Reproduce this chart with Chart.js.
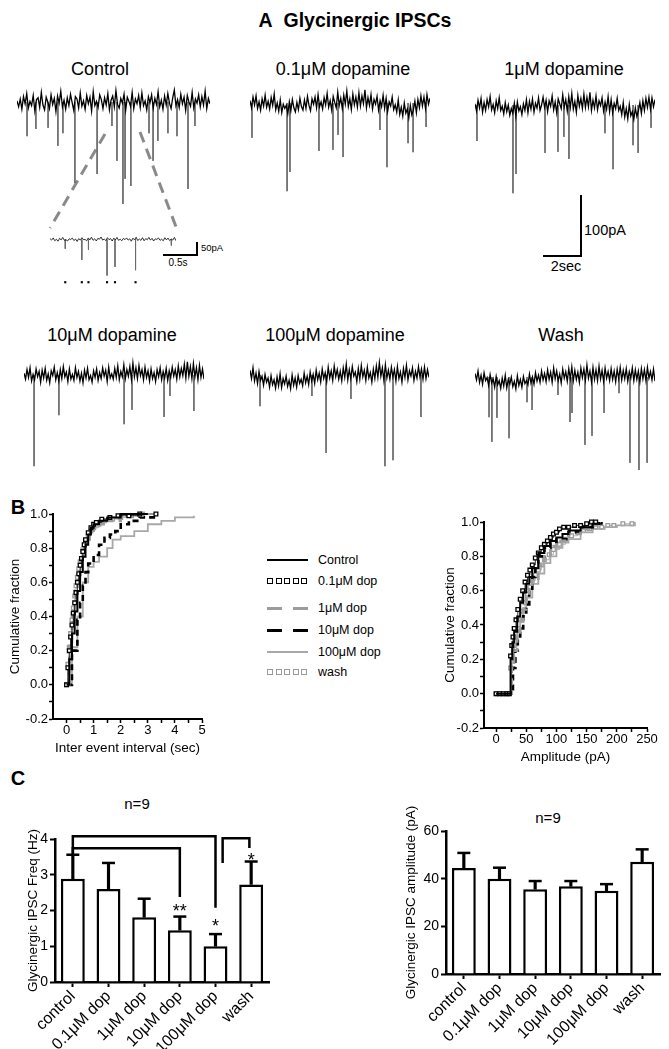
<!DOCTYPE html>
<html><head><meta charset="utf-8">
<script src="https://cdn.jsdelivr.net/npm/chart.js@4.4.1/dist/chart.umd.min.js"></script>
<style>
html,body{margin:0;padding:0;background:#fff}
body{width:669px;height:1049px;position:relative;overflow:hidden;font-family:"Liberation Sans",Arial,Helvetica,sans-serif;color:#000}
.t{position:absolute;white-space:nowrap;transform:translate(-50%,-50%);line-height:1}
.tl{position:absolute;white-space:nowrap;transform:translate(0,-50%);line-height:1}
.ln{position:absolute;background:#000}
canvas{position:absolute}
</style></head><body>
<div class="t" style="left:355px;top:21px;font-size:19.5px;font-weight:bold">A&nbsp;&nbsp;Glycinergic IPSCs</div>
<div class="t" style="left:100px;top:69px;font-size:18px">Control</div>
<div class="t" style="left:343px;top:69px;font-size:18px">0.1μM dopamine</div>
<div class="t" style="left:564px;top:69px;font-size:18px">1μM dopamine</div>
<div class="t" style="left:112px;top:335px;font-size:18px">10μM dopamine</div>
<div class="t" style="left:335px;top:335px;font-size:18px">100μM dopamine</div>
<div class="t" style="left:561px;top:335px;font-size:18px">Wash</div>

<div class="ln" style="left:580px;top:195px;width:2px;height:62px"></div>
<div class="ln" style="left:543px;top:255px;width:39px;height:2px"></div>
<div class="tl" style="left:584px;top:230px;font-size:14.5px">100pA</div>
<div class="t" style="left:566px;top:266px;font-size:14.5px">2sec</div>

<div class="ln" style="left:196px;top:242px;width:2px;height:14px"></div>
<div class="ln" style="left:163px;top:254px;width:35px;height:2px"></div>
<div class="tl" style="left:201px;top:248px;font-size:9.5px">50pA</div>
<div class="t" style="left:178px;top:263px;font-size:10px">0.5s</div>

<svg style="position:absolute;left:0;top:0" width="669" height="300"><g stroke="#8a8a8a" stroke-width="3" stroke-dasharray="11 7" fill="none"><line x1="105" y1="134" x2="50" y2="228"/><line x1="140" y1="132" x2="178" y2="232"/></g></svg>

<div class="t" style="left:18px;top:507px;font-size:20px;font-weight:bold">B</div>
<div class="t" style="left:18px;top:778px;font-size:20px;font-weight:bold">C</div>
<div class="t" style="left:137px;top:803px;font-size:15px">n=9</div>
<div class="t" style="left:548px;top:817px;font-size:15px">n=9</div>
<div id="legend"></div>

<script>
// ---------------- DATA ----------------
const traceDur = 10;      // s
const insetDur = 1.9;     // s
const insetMarkLevel = -192;

// baseline current samples (pA), evenly spaced over the trace
const ctrlBase = [2,-8,5,-12,9,-3,14,-10,1,-6,11,-15,4,7,-9,16,-5,-13,8,0,-11,12,-4,6,-16,10,-2,18,-8,3,-12,7,-6,13,-1,-14,9,5,-10,15,-7,2,-12,11,-3,8,-15,17,-6,1,-9,12,4,-11,7,-5,14,-13,3,10,-8,19,-4,-10,6,-2,13,-14,8,1,-7,16,-11,5,-3,11,-9,15,-6,2,-13,9,-1,12,-10,6,-4,17,-8,3,-12,10,-5,14,-2,-11,7,20,-6,4,-9,13,-3,8,-14,11,0,-7,16,-10,5,-2,12,-8,9,-5,18,-11,6,-3];
const ctrlSpikes = [[0.52,-57],[0.98,-45],[1.61,-43],[2.12,-73],[2.38,-52],[3.0,-135],[4.15,-120],[4.92,-40],[5.18,-98],[5.49,-170],[5.6,-128],[5.9,-140],[6.84,-52],[7.05,-98],[7.3,-65],[7.82,-52],[8.29,-57],[8.86,-145],[9.22,-40]];

const dop01Base = [4,-8,10,-3,12,-9,2,-12,7,-5,13,-7, 3,-10,9,-4,15,-11,0,-14,5,-16,-2,-9, -4,-18,2,-13,6,-8,-15,1,-11,8,-6,-12, 5,-9,11,-4,-13,7,-2,10,-8,14,-6,2, -10,9,-3,16,-7,4,-12,11,1,-8,18,-4, 8,-9,13,-2,20,-6,7,-11,15,-3,10,-7, 17,-5,12,-1,22,-8,9,-4,14,-10,6,-2, 11,-12,4,-6,13,-9,8,-14,2,-5,10,-11, -3,-15,5,-19,-7,-22,0,-17,-10,-25,-4,-20, -12,3,-16,6,-8,12,-5,10,-9,14,-2,8];
const dop01Spikes = [[0.11,-58],[2.06,-147],[2.22,-115],[3.83,-80],[4.61,-78],[4.89,-53],[5.17,-90],[7.22,-45],[7.61,-107],[8.78,-67],[9.06,-82],[9.78,-40]];

const dop1Base = [2,-10,8,-5,11,-12,4,-9,9,-3,14,-8, 1,-13,7,-6,12,-9,-2,-15,4,-11,0,-17, -6,-14,3,-19,5,-10,-3,-16,2,-9,9,-13, 6,-7,10,-12,3,-5,12,-9,0,13,-4,8, -11,7,-2,15,-8,5,-13,10,2,-6,17,-3, 9,-10,14,-4,19,-7,6,-12,16,-2,11,-6, 18,-4,13,-3,21,-9,8,-5,15,-8,7,-1, 12,-10,5,-7,14,-11,9,-13,3,-6,11,-9, -2,-16,4,-20,-6,-23,1,-18,-11,-24,-5,-19, -10,4,-14,7,-9,11,-4,13,-7,12,-3,9];
const dop1Spikes = [[0.11,-60],[2.11,-147],[2.28,-115],[3.89,-80],[4.61,-78],[4.94,-53],[5.22,-90],[7.22,-47],[7.67,-107],[8.78,-67],[9.06,-80],[9.78,-38]];

const dop10Base = [3,-7,9,-4,12,-10,1,-8,10,-3,6,-12, 8,-5,11,-9,2,-13,7,-1,13,-8,4,-10, 9,-6,14,-3,5,-11,10,-7,1,-9,12,-4, 6,-10,3,-13,8,-5,11,-8,-1,-12,7,-4, 10,-9,4,-6,12,-2,8,-11,13,-5,2,-7, 11,-4,15,-8,6,-3,17,-6,9,-2,14,-7, 20,-3,12,-6,16,-1,9,-8,13,-4,7,-10, 10,-6,4,-11,9,-3,12,-8,6,-5,11,-9, 7,-4,13,-2,9,-7,15,-3,11,-1,18,-5, 22,-2,14,-6,19,-3,12,-8,16,-4,10,-7];
const dop10Spikes = [[0.56,-152],[1.94,-67],[5.56,-82],[6.0,-58],[7.78,-70],[8.11,-35],[9.44,-60]];

const dop100Base = [8,-6,12,-10,3,-14,6,-9,-2,-17,1,-12, -5,-20,-1,-16,-8,-22,-3,-18,2,-21,-6,-15, -2,-19,-9,-23,0,-17,-5,-20,-1,-14,-7,-18, 3,-13,-2,-16,5,-10,1,-14,8,-8,3,-12, 10,-6,4,-11,13,-5,7,-9,15,-3,9,-7, 6,-10,12,-4,18,-8,9,-6,14,-2,5,-11, 11,-7,16,-3,8,-9,13,-5,4,-12,10,-6, 15,-4,21,-2,12,-9,17,-5,8,-7,13,-3, 9,-10,14,-6,5,-12,11,-4,16,-8,7,-2, 12,-9,6,-5,14,-3,10,-7,13,-6,9,-4];
const dop100Spikes = [[0.56,-52],[3.46,-35],[4.25,-130],[5.64,-40],[7.54,-152],[7.99,-142],[9.55,-70]];

const washBase = [6,-5,10,-9,3,-12,7,-6,-1,-14,4,-10, -3,-17,1,-13,-6,-19,-2,-15,3,-18,-4,-12, 0,-16,-7,-20,2,-14,-4,-17,1,-11,-6,-13, 5,-10,0,-12,7,-7,3,-9,10,-5,6,-8, 12,-4,8,-9,15,-3,10,-6,5,-10,13,-2, 9,-7,14,-3,17,-6,11,-4,8,-9,15,-1, 13,-5,20,-2,10,-8,16,-4,12,-6,18,-3, 11,-7,15,-2,9,-6,14,-4,10,-8,13,-3, 16,-5,11,-3,14,-7,9,-2,15,-6,12,-4, 10,-8,14,-3,12,-6,16,-2,9,-5,13,-7];
const washSpikes = [[0.78,-67],[0.94,-108],[1.22,-68],[1.89,-102],[2.89,-42],[3.17,-55],[4.61,-30],[5.28,-75],[5.39,-60],[6.11,-113],[6.5,-98],[7.17,-60],[8.0,-27],[8.61,-143],[9.11,-155],[9.56,-143]];

const insetBase = [4,-3,7,-6,1,-8,5,-2,9,-4,-1,-7,3,0,6,-5,2,-9,4,-3,8,-1,0,-6,7,-2,10,-4,3,-7,5,1,11,-3,2,-5,8,-1,4,-7,6,-2,9,-4,1,-6,5,-1,7,-3,3,-8,6,-2,10,-5,2,-4,8,-6,4,-1,9,-3,5,-7,3,0,7,-4,1,-6,8,-2,6,-5,2,-3,9,-6];
const insetSpikes = [[0.23,-42],[0.48,-92],[0.58,-46],[0.86,-162],[0.98,-123],[1.29,-138],[1.83,-27]];
const insetMarks = [0.23,0.48,0.58,0.86,0.98,1.29];

// cumulative fractions: [x, fraction]
const ieiControl = [[0,0],[0.1,0.15],[0.2,0.3],[0.3,0.43],[0.4,0.55],[0.5,0.66],[0.6,0.75],[0.7,0.82],[0.8,0.88],[0.9,0.92],[1.0,0.94],[1.2,0.96],[1.5,0.98],[2.0,1.0],[3.0,1.0]];
const ieiDop01 = [[0,0],[0.05,0.1],[0.1,0.2],[0.15,0.28],[0.2,0.35],[0.25,0.42],[0.3,0.48],[0.35,0.54],[0.4,0.6],[0.45,0.65],[0.5,0.7],[0.55,0.74],[0.6,0.78],[0.65,0.82],[0.7,0.85],[0.8,0.89],[0.9,0.92],[1.0,0.94],[1.1,0.95],[1.3,0.97],[1.6,0.98],[1.9,0.99],[2.3,0.99],[2.7,1.0],[3.3,1.0]];
const ieiDop1 = [[0,0],[0.1,0.25],[0.2,0.42],[0.3,0.55],[0.4,0.64],[0.5,0.72],[0.6,0.79],[0.7,0.85],[0.85,0.89],[1.0,0.92],[1.2,0.94],[1.5,0.96],[2.0,0.99],[2.8,1.0]];
const ieiDop10 = [[0,0],[0.2,0.2],[0.4,0.38],[0.5,0.48],[0.6,0.58],[0.7,0.66],[0.8,0.71],[1.0,0.76],[1.2,0.82],[1.4,0.86],[1.6,0.88],[1.8,0.9],[2.0,0.94],[2.3,0.96],[2.7,0.98],[3.3,0.99]];
const ieiDop100 = [[0,0],[0.2,0.22],[0.4,0.4],[0.6,0.6],[0.8,0.69],[1.0,0.72],[1.2,0.75],[1.5,0.8],[1.7,0.85],[2.0,0.87],[2.5,0.9],[3.0,0.94],[3.5,0.96],[4.0,0.98],[4.7,0.99]];
const ieiWash = [[0,0],[0.05,0.12],[0.1,0.22],[0.15,0.3],[0.2,0.38],[0.25,0.45],[0.3,0.52],[0.35,0.58],[0.4,0.63],[0.45,0.68],[0.5,0.72],[0.6,0.79],[0.7,0.84],[0.8,0.87],[0.9,0.9],[1.0,0.92],[1.2,0.94],[1.4,0.96],[1.7,0.97],[2.0,0.98],[2.4,0.99],[2.8,1.0]];

const ampControl = [[0,0],[22,0],[24,0.2],[27,0.3],[30,0.36],[35,0.45],[40,0.53],[45,0.59],[50,0.64],[55,0.68],[60,0.73],[70,0.82],[80,0.86],[90,0.89],[100,0.91],[110,0.93],[120,0.95],[140,0.97],[160,0.99],[175,1.0]];
const ampDop01 = [[0,0],[6,0],[12,0],[18,0],[22,0],[24,0.22],[26,0.28],[28,0.33],[30,0.38],[33,0.43],[36,0.49],[40,0.55],[44,0.6],[48,0.65],[52,0.69],[56,0.72],[60,0.75],[65,0.79],[70,0.82],[75,0.85],[80,0.87],[85,0.89],[90,0.91],[95,0.93],[100,0.94],[105,0.96],[112,0.97],[120,0.97],[130,0.98],[140,0.98],[150,0.99],[158,1.0],[165,1.0]];
const ampDop1 = [[0,0],[22,0],[26,0.15],[30,0.25],[35,0.34],[40,0.42],[45,0.49],[50,0.56],[55,0.62],[60,0.67],[70,0.75],[80,0.81],[90,0.86],[100,0.89],[120,0.93],[140,0.96],[160,0.98],[175,1.0]];
const ampDop10 = [[0,0],[24,0],[28,0.15],[32,0.25],[36,0.32],[40,0.38],[45,0.45],[50,0.52],[55,0.6],[60,0.68],[65,0.74],[70,0.8],[80,0.85],[90,0.88],[100,0.9],[120,0.94],[140,0.97],[160,0.99],[170,1.0]];
const ampDop100 = [[0,0],[22,0],[25,0.18],[30,0.28],[35,0.36],[40,0.43],[45,0.5],[50,0.56],[60,0.64],[70,0.7],[80,0.76],[90,0.8],[100,0.85],[110,0.88],[120,0.9],[140,0.94],[160,0.96],[180,0.97],[200,0.98],[230,1.0]];
const ampWash = [[0,0],[5,0],[10,0],[15,0],[20,0],[24,0.15],[27,0.22],[30,0.28],[33,0.33],[36,0.38],[40,0.43],[44,0.48],[48,0.53],[52,0.58],[56,0.62],[60,0.66],[65,0.69],[70,0.72],[75,0.75],[80,0.78],[88,0.81],[95,0.84],[105,0.87],[115,0.9],[125,0.92],[135,0.94],[145,0.95],[155,0.96],[165,0.97],[175,0.97],[185,0.98],[195,0.98],[210,0.99],[225,0.99]];

const legendLabels = ['Control','0.1μM dop','1μM dop','10μM dop','100μM dop','wash'];

const cumYTicks  = [-0.2,-0.1,0,0.1,0.2,0.3,0.4,0.5,0.6,0.7,0.8,0.9,1.0];
const cumYLabels = ['-0.2','','0.0','','0.2','','0.4','','0.6','','0.8','','1.0'];
const ieiXTicks  = [0,0.5,1,1.5,2,2.5,3,3.5,4,4.5,5];
const ieiXLabels = ['0','','1','','2','','3','','4','','5'];
const ampXTicks  = [0,25,50,75,100,125,150,175,200,225,250];
const ampXLabels = ['0','','50','','100','','150','','200','','250'];

const condLabels = ['control','0.1μM dop','1μM dop','10μM dop','100μM dop','wash'];
const freqMean = [2.89,2.60,1.81,1.45,1.00,2.73];
const freqSem  = [0.67,0.73,0.52,0.38,0.34,0.64];
const freqYTicks = [0,1,2,3,4];
const ampMean = [44.5,40.0,35.6,36.8,34.9,47.1];
const ampSem  = [6.3,4.6,3.4,2.2,2.8,5.2];
const ampYTicks = [0,20,40,60];

// significance brackets (category positions, Hz levels)
const bracketFrom    = [0, 0, 4.2];
const bracketTo      = [4, 3, 4.95];
const bracketLevel   = [4.08, 3.74, 4.02];
const bracketFromEnd = [3.56, 3.56, 3.33];
const bracketToEnd   = [2.08, 2.38, 3.75];
const starLabels = ['','','','**','*','*'];
const starLevels = [0,0,0,2.07,1.65,3.5];

// ---------------- DRAWING ----------------
Chart.defaults.font.family = '"Liberation Sans", Arial, Helvetica, sans-serif';
Chart.defaults.color = '#000';
Chart.defaults.animation = false;
Chart.defaults.responsive = false;
Chart.defaults.events = [];
Chart.defaults.plugins.legend.display = false;
Chart.defaults.plugins.tooltip.enabled = false;

function mk(l, t, w, h) {
  const c = document.createElement('canvas');
  c.width = w; c.height = h;
  c.style.left = l + 'px'; c.style.top = t + 'px';
  c.style.width = w + 'px'; c.style.height = h + 'px';
  document.body.appendChild(c);
  return c;
}

function trace(box, base, spikes, dur, yMin, yMax, lw, marks) {
  const [l, t, w, h] = box;
  const n = base.length;
  const basePts = base.map((v, i) => ({x: i * dur / (n - 1), y: v}));
  const spk = [];
  spikes.forEach(([s, a]) => { spk.push({x: s, y: 0}, {x: s, y: a}, {x: s, y: null}); });
  const ds = [
    {data: basePts, borderColor: '#000', borderWidth: lw, pointRadius: 0, order: 1},
    {data: spk, borderColor: '#6a6a6a', borderWidth: 1, pointRadius: 0, spanGaps: false, order: 2}
  ];
  if (marks) ds.push({data: marks.map(s => ({x: s, y: insetMarkLevel})), showLine: false,
    pointStyle: 'rect', pointRadius: 1.5, pointBackgroundColor: '#000', pointBorderWidth: 0, order: 0});
  new Chart(mk(l, t, w, h), {
    type: 'line', data: {datasets: ds},
    options: {layout: {padding: 0}, elements: {line: {tension: 0}},
      scales: {x: {type: 'linear', display: false, min: 0, max: dur},
               y: {display: false, min: yMin, max: yMax}}}
  });
}

// 0.6 px/pA ; range -200..40 -> 144 px
trace([17, 78, 193, 144], ctrlBase, ctrlSpikes, traceDur, -200, 40, 1.3);
trace([250, 79, 180, 144], dop01Base, dop01Spikes, traceDur, -200, 40, 1.3);
trace([475, 81, 180, 144], dop1Base, dop1Spikes, traceDur, -200, 40, 1.3);
trace([24, 351, 180, 144], dop10Base, dop10Spikes, traceDur, -200, 40, 1.3);
trace([250, 351, 179, 144], dop100Base, dop100Spikes, traceDur, -200, 40, 1.3);
trace([475, 353, 180, 144], washBase, washSpikes, traceDur, -200, 40, 1.3);
// inset: 0.26 px/pA
trace([46, 231, 134, 57], insetBase, insetSpikes, insetDur, -200, 20, 0.8, insetMarks);

const cumStyles = [
  {borderColor: '#000', borderWidth: 2},
  {borderColor: '#000', borderWidth: 0.8, pointStyle: 'rect', pointRadius: 2.6, pointBorderColor: '#000', pointBackgroundColor: '#fff', pointBorderWidth: 1.3},
  {borderColor: '#9c9c9c', borderWidth: 2.6, borderDash: [7, 5]},
  {borderColor: '#000', borderWidth: 2.6, borderDash: [6, 4]},
  {borderColor: '#a8a8a8', borderWidth: 1.8},
  {borderColor: '#a0a0a0', borderWidth: 0.8, pointStyle: 'rect', pointRadius: 2.6, pointBorderColor: '#9a9a9a', pointBackgroundColor: '#fff', pointBorderWidth: 1.3}
];

function cum(box, area, series, xMin, xMax, xTicks, xLabels, xTitle, xTitlePad, yTitlePad) {
  const [l, t, w, h] = box; const [YW, PT, PR, XH] = area;
  const datasets = series.map((s, i) => Object.assign({
    data: s.map(([x, y]) => ({x, y})), stepped: true, pointRadius: 0, clip: false
  }, cumStyles[i]));
  new Chart(mk(l, t, w, h), {
    type: 'line', data: {datasets},
    options: {
      layout: {padding: {top: PT, right: PR, left: 0, bottom: 0}},
      elements: {line: {tension: 0}},
      scales: {
        x: {type: 'linear', min: xMin, max: xMax,
          afterBuildTicks: s => { s.ticks = xTicks.map(v => ({value: v})); },
          afterFit: s => { s.height = XH; },
          ticks: {autoSkip: false, maxRotation: 0, padding: 0, font: {size: 13}, callback: (v, i) => xLabels[i]},
          grid: {drawOnChartArea: false, tickLength: 4, tickWidth: 1.5, tickColor: '#000'},
          border: {color: '#000', width: 2},
          title: {display: true, text: xTitle, font: {size: 13.5}, padding: {top: 0, bottom: xTitlePad}}},
        y: {min: -0.2, max: 1.0,
          afterBuildTicks: s => { s.ticks = cumYTicks.map(v => ({value: v})); },
          afterFit: s => { s.width = YW; },
          ticks: {autoSkip: false, padding: 1, font: {size: 13}, callback: (v, i) => cumYLabels[i]},
          grid: {drawOnChartArea: false, tickLength: 4, tickWidth: 1.5, tickColor: '#000'},
          border: {color: '#000', width: 2},
          title: {display: true, text: 'Cumulative fraction', font: {size: 13.5}, padding: {top: yTitlePad, bottom: 0}}}
      }
    }
  });
}

cum([0, 500, 215, 270], [53, 14, 13, 51],
    [ieiControl, ieiDop01, ieiDop1, ieiDop10, ieiDop100, ieiWash],
    -0.5, 5, ieiXTicks, ieiXLabels, 'Inter event interval (sec)', 13.9, 6.9);
cum([400, 500, 269, 270], [84, 22, 22, 42],
    [ampControl, ampDop01, ampDop1, ampDop10, ampDop100, ampWash],
    -20, 250, ampXTicks, ampXLabels, 'Amplitude (pA)', 4.9, 41.9);

// legend
(function () {
  const rows = [560, 581, 608, 630, 652, 672];
  const lg = document.getElementById('legend');
  legendLabels.forEach((lab, i) => {
    const y = rows[i];
    const st = cumStyles[i];
    let html = '';
    if (st.pointStyle) {
      for (let k = 0; k < 5; k++) {
        html += `<div style="position:absolute;left:${267 + k * 8.6}px;top:${y - 3}px;width:4px;height:4px;border:1.4px solid ${st.pointBorderColor};background:#fff"></div>`;
      }
    } else if (st.borderDash) {
      html += `<div class="ln" style="left:267px;top:${y - 1.5}px;width:15px;height:3px;background:${st.borderColor}"></div>`;
      html += `<div class="ln" style="left:293px;top:${y - 1.5}px;width:15px;height:3px;background:${st.borderColor}"></div>`;
    } else {
      html += `<div class="ln" style="left:267px;top:${y - st.borderWidth / 2}px;width:41px;height:${st.borderWidth}px;background:${st.borderColor}"></div>`;
    }
    html += `<div class="tl" style="left:318px;top:${y}px;font-size:12.5px">${lab}</div>`;
    lg.insertAdjacentHTML('beforeend', html);
  });
})();

function barChart(box, area, means, sems, yTicks, yMax, yTitle, yTitlePad, plugins) {
  const [l, t, w, h] = box; const [YW, PT, PR, XH] = area;
  const tops = means.map((m, i) => m + sems[i]);
  new Chart(mk(l, t, w, h), {
    type: 'bar',
    data: {labels: condLabels, datasets: [
      {type: 'line', data: tops, showLine: false, pointStyle: 'line', pointRadius: 6.5,
       pointBorderWidth: 2.5, pointBorderColor: '#000', order: 0},
      {data: means.map((m, i) => [m, tops[i]]), backgroundColor: '#000', borderWidth: 0,
       barThickness: 2.5, grouped: false, order: 1},
      {data: means, backgroundColor: '#fff', borderColor: '#000', borderWidth: 2.5,
       barPercentage: 0.67, categoryPercentage: 1, grouped: false, order: 2}
    ]},
    options: {
      layout: {padding: {top: PT, right: PR, left: 0, bottom: 0}},
      scales: {
        x: {afterFit: s => { s.height = XH; },
          ticks: {autoSkip: false, minRotation: 45, maxRotation: 45, padding: 0, font: {size: 16}},
          grid: {offset: false, drawOnChartArea: false, tickLength: 5, tickWidth: 2, tickColor: '#000'},
          border: {color: '#000', width: 2.5}},
        y: {min: 0, max: yMax,
          afterBuildTicks: s => { s.ticks = yTicks.map(v => ({value: v})); },
          afterFit: s => { s.width = YW; },
          ticks: {autoSkip: false, padding: 2, font: {size: 14}},
          grid: {drawOnChartArea: false, tickLength: 5, tickWidth: 2, tickColor: '#000'},
          border: {color: '#000', width: 2.5},
          title: {display: true, text: yTitle, font: {size: 13.5}, padding: {top: yTitlePad, bottom: 0}}}
      }
    },
    plugins: plugins || []
  });
}

const sigPlugin = {
  id: 'sig',
  afterDatasetsDraw(chart) {
    const {ctx, scales: {x, y}} = chart;
    const x0 = x.getPixelForValue(0), dx = x.getPixelForValue(1) - x0;
    const px = v => x0 + v * dx;
    ctx.save();
    ctx.strokeStyle = '#000'; ctx.lineWidth = 2.5; ctx.lineJoin = 'miter';
    bracketFrom.forEach((f, k) => {
      ctx.beginPath();
      ctx.moveTo(px(f), y.getPixelForValue(bracketFromEnd[k]));
      ctx.lineTo(px(f), y.getPixelForValue(bracketLevel[k]));
      ctx.lineTo(px(bracketTo[k]), y.getPixelForValue(bracketLevel[k]));
      ctx.lineTo(px(bracketTo[k]), y.getPixelForValue(bracketToEnd[k]));
      ctx.stroke();
    });
    const fs = 18;
    ctx.font = fs + 'px "Liberation Sans", Arial, sans-serif';
    ctx.fillStyle = '#000'; ctx.textAlign = 'center'; ctx.textBaseline = 'middle';
    starLabels.forEach((s, i) => {
      if (s) ctx.fillText(s, px(i), y.getPixelForValue(starLevels[i]) + 0.22 * fs);
    });
    ctx.restore();
  }
};

barChart([0, 790, 280, 259], [55, 49, 11, 67], freqMean, freqSem, freqYTicks, 4,
         'Glycinergic IPSC Freq (Hz)', 24.9, [sigPlugin]);
barChart([340, 790, 329, 259], [106, 41, 7, 75], ampMean, ampSem, ampYTicks, 60,
         'Glycinergic IPSC amplitude (pA)', 62.9);
</script>
</body></html>
